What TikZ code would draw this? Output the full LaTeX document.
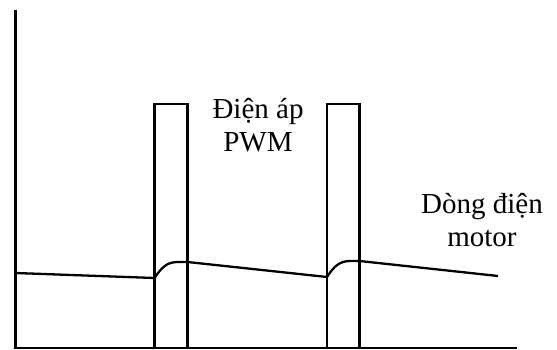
\documentclass[tikz,border=0pt]{standalone}
\usepackage{fontspec}
\setmainfont{Liberation Serif}
\begin{document}
\begin{tikzpicture}[x=1pt,y=-1pt,
  wire/.style={line width=2.3pt,line join=miter},
  label/.style={align=center,font=\fontsize{29}{33}\selectfont,inner sep=0pt}]
  \useasboundingbox (0,0) rectangle (557,350);
  % axes
  \coordinate (ytop) at (15.5,10);
  \coordinate (orig) at (15.5,348);
  \coordinate (xend) at (517,348);
  \draw[wire] (ytop) -- (orig) -- (xend);
  % PWM voltage pulses
  \draw[wire] (154.5,348) -- (154.5,104) -- (187.5,104) -- (187.5,348);
  \draw[wire] (327,348) -- (327,104) -- (359.5,104) -- (359.5,348);
  % motor current
  \draw[wire,line join=round]
    (15.5,273) -- (154.5,278)
    .. controls (162,267) and (167,262) .. (178,262) -- (187.5,262)
    -- (327,277)
    .. controls (334,266) and (340,261) .. (350,261) -- (359.5,261)
    -- (498,276);
  % labels
  \node[label] (vpwm) at (258,125) {Điện áp\\PWM};
  \node[label] (imot) at (482,220) {Dòng điện\\motor};
\end{tikzpicture}
\end{document}
